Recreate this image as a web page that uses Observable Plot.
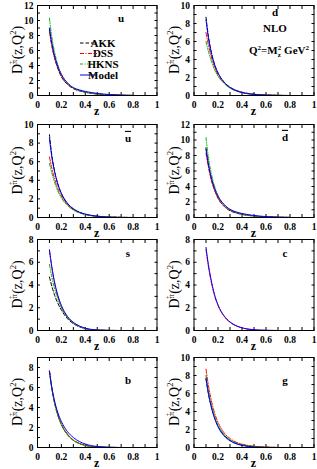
<!DOCTYPE html>
<html><head><meta charset="utf-8">
<script src="https://cdn.jsdelivr.net/npm/d3@7"></script>
<script src="https://cdn.jsdelivr.net/npm/@observablehq/plot@0.6"></script>
<style>
html,body{margin:0;padding:0;background:#fff;}
#wrap{position:relative;width:317px;height:469px;overflow:hidden;}
#wrap svg{position:absolute;}
</style></head>
<body><div id="wrap"></div>
<script>
// ---- data ----
const z = [0.1, 0.12, 0.14, 0.17, 0.2, 0.25, 0.3, 0.35, 0.4, 0.5, 0.6, 0.7, 0.8];
const seriesNames = ["AKK", "DSS", "HKNS", "Model"];
const xTickLabels = [0, 0.2, 0.4, 0.6, 0.8, 1];

const u_AKK   = [8.8, 6.7, 5.2, 3.6, 2.5, 1.5, 0.92, 0.62, 0.43, 0.2, 0.09, 0.035, 0.01];
const u_DSS   = [8.5, 6.6, 5.2, 3.7, 2.6, 1.55, 0.98, 0.66, 0.45, 0.21, 0.1, 0.04, 0.01];
const u_HKNS  = [10.3, 7.8, 6.0, 4.1, 2.85, 1.65, 1.0, 0.65, 0.43, 0.19, 0.08, 0.03, 0.01];
const u_Model = [9.0, 7.0, 5.5, 3.9, 2.8, 1.7, 1.05, 0.75, 0.55, 0.28, 0.13, 0.05, 0.015];

const d_AKK   = [8.7, 6.6, 5.1, 3.5, 2.5, 1.5, 0.92, 0.58, 0.37, 0.15, 0.06, 0.02, 0.005];
const d_DSS   = [7.0, 5.6, 4.5, 3.2, 2.3, 1.4, 0.85, 0.53, 0.33, 0.13, 0.05, 0.015, 0];
const d_HKNS  = [6.0, 4.9, 4.0, 2.9, 2.15, 1.35, 0.83, 0.52, 0.32, 0.12, 0.04, 0.01, 0];
const d_Model = [8.4, 6.4, 5.0, 3.5, 2.5, 1.5, 0.9, 0.55, 0.33, 0.12, 0.04, 0.01, 0];

const ubar_AKK   = [8.9, 6.7, 5.2, 3.6, 2.55, 1.5, 0.9, 0.56, 0.36, 0.15, 0.06, 0.02, 0.005];
const ubar_DSS   = [6.5, 5.3, 4.3, 3.1, 2.3, 1.4, 0.85, 0.53, 0.33, 0.12, 0.04, 0.01, 0];
const ubar_HKNS  = [5.8, 4.8, 3.9, 2.85, 2.1, 1.3, 0.8, 0.5, 0.31, 0.11, 0.04, 0.01, 0];
const ubar_Model = [8.5, 6.5, 5.1, 3.6, 2.6, 1.55, 0.95, 0.58, 0.36, 0.13, 0.04, 0.01, 0];

const dbar_AKK   = [9.0, 6.8, 5.2, 3.6, 2.5, 1.45, 0.88, 0.58, 0.4, 0.18, 0.08, 0.03, 0.01];
const dbar_DSS   = [8.3, 6.5, 5.1, 3.6, 2.55, 1.5, 0.95, 0.64, 0.44, 0.2, 0.09, 0.035, 0.01];
const dbar_HKNS  = [10.3, 7.8, 6.0, 4.1, 2.85, 1.65, 1.0, 0.65, 0.43, 0.19, 0.08, 0.03, 0.01];
const dbar_Model = [8.8, 6.9, 5.4, 3.85, 2.75, 1.7, 1.05, 0.72, 0.52, 0.26, 0.12, 0.05, 0.015];

const s_AKK   = [4.7, 3.9, 3.2, 2.4, 1.8, 1.05, 0.6, 0.33, 0.17, 0.04, 0.01, 0, 0];
const s_DSS   = [7.0, 5.5, 4.3, 3.0, 2.1, 1.2, 0.68, 0.37, 0.18, 0.04, 0.01, 0, 0];
const s_HKNS  = [5.8, 4.7, 3.8, 2.8, 2.0, 1.15, 0.65, 0.35, 0.17, 0.04, 0.01, 0, 0];
const s_Model = [7.1, 5.6, 4.4, 3.1, 2.2, 1.25, 0.72, 0.4, 0.2, 0.05, 0.01, 0, 0];

const c_DSS   = [7.1, 5.6, 4.45, 3.1, 2.2, 1.25, 0.72, 0.41, 0.22, 0.06, 0.015, 0, 0];
const c_Model = [7.3, 5.8, 4.6, 3.2, 2.25, 1.3, 0.75, 0.43, 0.24, 0.07, 0.02, 0, 0];

const b_AKK   = [7.6, 5.9, 4.6, 3.25, 2.3, 1.3, 0.72, 0.4, 0.21, 0.05, 0.01, 0, 0];
const b_DSS   = [7.7, 6.0, 4.7, 3.3, 2.35, 1.35, 0.75, 0.42, 0.22, 0.05, 0.01, 0, 0];
const b_HKNS  = [7.6, 5.9, 4.6, 3.2, 2.25, 1.28, 0.7, 0.38, 0.2, 0.05, 0.01, 0, 0];
const b_Model = [7.6, 6.0, 4.8, 3.5, 2.6, 1.6, 1.0, 0.6, 0.35, 0.1, 0.03, 0, 0];

const g_AKK   = [7.6, 6.0, 4.8, 3.4, 2.4, 1.4, 0.8, 0.47, 0.28, 0.09, 0.03, 0, 0];
const g_DSS   = [8.7, 6.9, 5.5, 3.9, 2.8, 1.65, 1.0, 0.6, 0.38, 0.14, 0.05, 0.01, 0];
const g_HKNS  = [8.0, 6.3, 5.0, 3.5, 2.5, 1.45, 0.85, 0.5, 0.3, 0.1, 0.03, 0, 0];
const g_Model = [7.7, 6.0, 4.7, 3.3, 2.3, 1.3, 0.75, 0.42, 0.23, 0.06, 0.01, 0, 0];

const panelLabels = ["u", "d", "u", "d", "s", "c", "b", "g"];
const panelYMax   = [12, 10, 10, 12, 8, 8, 9, 10];

// ---- styles ----
const styles = {
  AKK:   {stroke: "#000000", strokeDasharray: "3.5,2"},
  DSS:   {stroke: "#ff0000", strokeDasharray: "4,1.5,1,1.5"},
  HKNS:  {stroke: "#00b000", strokeDasharray: "3,1.5,1,1.5,1,1.5"},
  Model: {stroke: "#0000ff", strokeDasharray: null}
};

const panels = [
  {series: {AKK: u_AKK, DSS: u_DSS, HKNS: u_HKNS, Model: u_Model}},
  {series: {AKK: d_AKK, DSS: d_DSS, HKNS: d_HKNS, Model: d_Model}},
  {series: {AKK: ubar_AKK, DSS: ubar_DSS, HKNS: ubar_HKNS, Model: ubar_Model}, bar: true},
  {series: {AKK: dbar_AKK, DSS: dbar_DSS, HKNS: dbar_HKNS, Model: dbar_Model}, bar: true},
  {series: {AKK: s_AKK, DSS: s_DSS, HKNS: s_HKNS, Model: s_Model}},
  {series: {DSS: c_DSS, Model: c_Model}},
  {series: {AKK: b_AKK, DSS: b_DSS, HKNS: b_HKNS, Model: b_Model}},
  {series: {AKK: g_AKK, DSS: g_DSS, HKNS: g_HKNS, Model: g_Model}}
];

// ---- layout ----
const colLeft = [0, 157];
const colMarginLeft = [37, 36.5];
const rowFrame = [[5, 95], [124, 217], [239, 330], [357, 447]];
const labelPos = [[121, 18], [118, 12], [128, 19], [128, 18], [128, 19], [128, 19], [128, 28], [128, 28]];
const FONT = "'Liberation Serif','Times New Roman',serif";

const wrap = document.getElementById("wrap");
const xMinor = d3.range(0, 1.0001, 0.1);

panels.forEach((p, i) => {
  const col = i % 2, row = Math.floor(i / 2);
  const [ft, fb] = rowFrame[row];
  const mt = 5, mb = 22, W = 158;
  const H = fb - ft + mt + mb;
  const yMax = panelYMax[i];
  const yTicks = d3.range(0, yMax + 0.001, 2);
  const yMinor = d3.range(0, yMax + 0.001, 1);
  const lineMarks = seriesNames.filter(n => p.series[n]).map(n =>
    Plot.line(z.map((zz, k) => ({z: zz, v: p.series[n][k]})), {
      x: "z", y: "v", stroke: styles[n].stroke, strokeDasharray: styles[n].strokeDasharray,
      strokeWidth: 1, curve: "monotone-x", clip: true
    })
  );
  const svg = Plot.plot({
    width: W, height: H,
    marginLeft: colMarginLeft[col], marginRight: 1.5, marginTop: mt, marginBottom: mb,
    style: {background: "transparent", fontFamily: FONT, fontWeight: "bold", fontSize: "9.5px", overflow: "visible", color: "black"},
    x: {domain: [0, 1]},
    y: {domain: [0, yMax]},
    marks: [
      Plot.axisX({ticks: xTickLabels, tickSize: 0, tickPadding: 6, label: null, tickFormat: d => String(d)}),
      Plot.axisX({ticks: xMinor, tickSize: -3, tickFormat: () => "", label: null}),
      Plot.axisX({anchor: "top", ticks: xMinor, tickSize: -3, tickFormat: () => "", label: null}),
      Plot.axisY({ticks: yTicks, tickSize: 0, tickPadding: 4, label: null, tickFormat: d => String(d)}),
      Plot.axisY({ticks: yMinor, tickSize: -3, tickFormat: () => "", label: null}),
      Plot.axisY({anchor: "right", ticks: yMinor, tickSize: -3, tickFormat: () => "", label: null}),
      ...lineMarks,
      Plot.frame({stroke: "black", strokeWidth: 1})
    ]
  });
  svg.style.left = colLeft[col] + "px";
  svg.style.top = (ft - mt) + "px";
  wrap.appendChild(svg);
  const s = d3.select(svg);
  const frameH = fb - ft;
  // x label
  s.append("text").attr("x", colMarginLeft[col] + (W - colMarginLeft[col] - 1.5) / 2).attr("y", mt + frameH + 20)
    .attr("text-anchor", "middle").attr("font-family", FONT).attr("font-weight", "bold").attr("font-size", 12).text("z");
  // y label
  const yl = s.append("text").attr("transform", `translate(21.5,${mt + frameH / 2}) rotate(-90)`)
    .attr("text-anchor", "middle").attr("font-family", FONT).attr("font-weight", "normal").attr("font-size", 14);
  yl.append("tspan").text("D");
  yl.append("tspan").attr("dy", -4.5).attr("font-size", 8.5).text("π");
  yl.append("tspan").attr("dy", -4.5).attr("dx", -4.8).attr("font-size", 6.5).text("+");
  yl.append("tspan").attr("dy", 9).attr("dx", 1.5).text("(z,Q");
  yl.append("tspan").attr("dy", -5.5).attr("font-size", 8.5).text("2");
  yl.append("tspan").attr("dy", 5.5).text(")");
  // panel label
  const [lx, ly] = labelPos[i];
  s.append("text").attr("x", lx).attr("y", ly).attr("dy", "0.35em").attr("text-anchor", "middle")
    .attr("font-family", FONT).attr("font-weight", "bold").attr("font-size", 11)
    .style("text-decoration", p.bar ? "overline" : null).text(panelLabels[i]);
  if (i === 0) {
    const ys = [43, 53.5, 64, 75];
    seriesNames.forEach((n, k) => {
      s.append("line").attr("x1", 80).attr("x2", 97).attr("y1", ys[k]).attr("y2", ys[k])
        .attr("stroke", styles[n].stroke).attr("stroke-width", 1)
        .attr("stroke-dasharray", styles[n].strokeDasharray);
      s.append("text").attr("x", 103).attr("y", ys[k]).attr("dy", "0.35em")
        .attr("font-family", FONT).attr("font-weight", "bold").attr("font-size", 11).text(n);
    });
  }
  if (i === 1) {
    s.append("text").attr("x", 118).attr("y", 28).attr("dy", "0.35em").attr("text-anchor", "middle")
      .attr("font-family", FONT).attr("font-weight", "bold").attr("font-size", 11).text("NLO");
    const q = s.append("text").attr("x", 122).attr("y", 50).attr("dy", "0.35em").attr("text-anchor", "middle")
      .attr("font-family", FONT).attr("font-weight", "bold").attr("font-size", 11);
    q.append("tspan").text("Q");
    q.append("tspan").attr("dy", -4).attr("font-size", 7).text("2");
    q.append("tspan").attr("dy", 4).text("=M");
    q.append("tspan").attr("dy", 3).attr("font-size", 7).text("z");
    q.append("tspan").attr("dy", -7).attr("dx", -3).attr("font-size", 7).text("2");
    q.append("tspan").attr("dy", 4).text(" GeV");
    q.append("tspan").attr("dy", -4).attr("font-size", 7).text("2");
  }
});
</script></body></html>
